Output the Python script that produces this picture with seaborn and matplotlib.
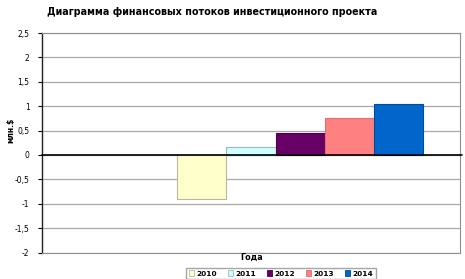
import matplotlib
matplotlib.use("Agg")
import matplotlib.pyplot as plt
import seaborn as sns
import pandas as pd
from matplotlib.ticker import FuncFormatter, MultipleLocator

years = ["2010", "2011", "2012", "2013", "2014"]
values = [-0.90, 0.17, 0.46, 0.76, 1.04]
colors = ["#FFFFCC", "#CCFFFF", "#660066", "#FF8080", "#0066CC"]
edges = ["#B8B8A0", "#A0B8B8", "#4A004A", "#E07070", "#004C99"]
title = "Диаграмма финансовых потоков инвестиционного проекта"
ylabel = "млн.$"
xlabel = "Года"

df = pd.DataFrame({"cat": ["Года"] * 5, "year": years, "value": values})

sns.set_style("white")
plt.rcParams["font.family"] = ["DejaVu Sans"]
plt.rcParams["text.color"] = "black"

fig = plt.figure(figsize=(4.65, 2.79), dpi=100)
ax = fig.add_axes([42 / 465, 26.5 / 279, 418 / 465, 219.5 / 279])

sns.barplot(data=df, x="cat", y="value", hue="year", palette=colors,
            width=1.0, ax=ax, legend=True, saturation=1, errorbar=None)
for patch, ec in zip(ax.patches[:5], edges):
    patch.set_edgecolor(ec)
    patch.set_linewidth(0.8)

ax.set_xlim(-1.053, 0.653)
ax.set_ylim(-2, 2.5)
ax.yaxis.set_major_locator(MultipleLocator(0.5))
ax.yaxis.set_major_formatter(FuncFormatter(
    lambda v, p: ("%g" % v).replace(".", ",")))
ax.grid(axis="y", color="#A8A8A8", linewidth=0.9)
ax.set_axisbelow(True)
ax.axhline(0, color="black", linewidth=1.2, zorder=3, xmax=1.005, clip_on=False)
ax.set_xticks([])
ax.tick_params(axis="y", labelsize=5.5, length=3, width=0.8, pad=6,
               left=True, colors="black")
for s in ["top", "right", "bottom"]:
    ax.spines[s].set_color("#909090")
    ax.spines[s].set_linewidth(0.8)
ax.spines["left"].set_color("#202020")
ax.spines["left"].set_linewidth(1.0)
ax.set_ylabel("")
fig.text(11 / 465, 1 - 130 / 279, ylabel, rotation=90, ha="center",
         va="center", fontsize=5.5, fontweight="bold", color="black")
ax.set_xlabel("")
fig.text(252 / 465, 1 - 257 / 279, xlabel, ha="center", va="center",
         fontsize=5.8, fontweight="bold", color="black")

leg = ax.legend(loc="lower center",
                bbox_to_anchor=((281 - 42) / 418, -26.3 / 219.5),
                borderaxespad=0,
                ncol=5, fontsize=5.3, frameon=True, fancybox=False,
                handlelength=0.7, handleheight=0.7, handletextpad=0.4,
                columnspacing=1.4, borderpad=0.3, edgecolor="#909090",
                title=None)
for t in leg.get_texts():
    t.set_fontweight("bold")
    t.set_color("black")
for h, ec in zip(leg.legend_handles, edges):
    h.set_edgecolor(ec)
    h.set_linewidth(0.6)

fig.text(212 / 465, 1 - 12 / 279, title, ha="center", va="center",
         fontsize=6.9, fontweight="heavy", color="black")

fig.savefig("out.png", dpi=100)
